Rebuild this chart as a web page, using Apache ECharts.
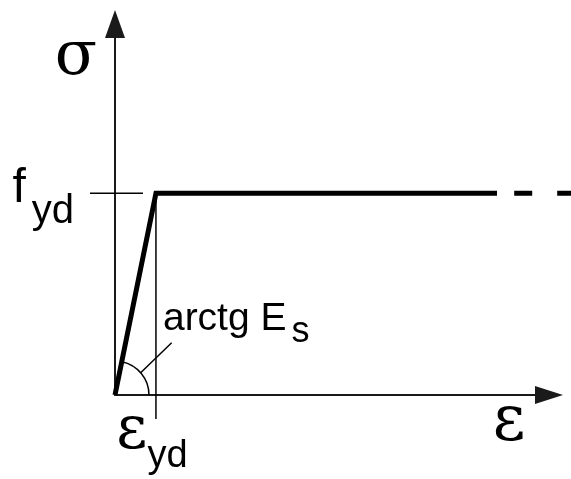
<!DOCTYPE html>
<html><head><meta charset="utf-8">
<script src="https://cdn.jsdelivr.net/npm/echarts@6/dist/echarts.min.js"></script>
<style>html,body{margin:0;padding:0;background:#fff}#c{width:571px;height:479px}</style>
</head><body><div id="c"></div>
<script>
// ---- data (normalised: strain / eps_yd, stress / f_yd) ----
const strainPts = [0, 1, 9.33];        // bilinear stress-strain diagram
const stressPts = [0, 1, 1];
const dashStrain = [9.75, 11.2];        // dashed continuation of the plateau
const dashStress = [1, 1];
const epsYd = 1;                        // yield strain
const fYd = 1;                          // design yield strength
const xTickValues = [1];
const xTickMain = ['ε'];
const xTickSub = ['yd'];
const yTickValues = [1];
const yTickMain = ['f'];
const yTickSub = ['yd'];
const xName = 'ε';
const yName = 'σ';
const angleMain = 'arctg E';
const angleSub = 's';

const SERIF = 'DejaVu Serif';
const SANS = 'Liberation Sans';
const INK = '#000';

const zip = (a, b) => a.map((v, i) => [v, b[i]]);

const chart = echarts.init(document.getElementById('c'), null, {renderer: 'canvas'});
const option = {
  animation: false,
  backgroundColor: '#fff',
  grid: {left: 115, right: 22, top: 24, bottom: 84, containLabel: false, outerBoundsMode: 'none'},
  xAxis: {
    type: 'value', min: 0, max: 10.6, interval: 1,
    axisLine: {show: true, onZero: false, symbol: ['none', 'triangle'], symbolSize: [18, 28],
      lineStyle: {color: '#1a1a1a', width: 2}},
    axisTick: {show: false}, splitLine: {show: false},
    axisLabel: {
      margin: 7, hideOverlap: false, showMinLabel: true, showMaxLabel: false,
      formatter: v => { const i = xTickValues.indexOf(v); return i < 0 ? '' : '{e|' + xTickMain[i] + '}{s|' + xTickSub[i] + '}'; },
      rich: {
        e: {fontFamily: SERIF, fontSize: 60, color: INK, padding: [0, 0, 25, 0]},
        s: {fontFamily: SANS, fontSize: 38, color: INK, padding: [25, 8, 0, 0]}
      }
    },
    name: '{n|' + xName + '}', nameLocation: 'end', nameGap: -40, nameMoveOverlap: false,
    nameTextStyle: {align: 'center', verticalAlign: 'middle',
      rich: {n: {fontFamily: SERIF, fontSize: 63, color: INK, padding: [58, 0, 0, 0]}}}
  },
  yAxis: {
    type: 'value', min: 0, max: 1.84, interval: 1,
    axisLine: {show: true, onZero: false, symbol: ['none', 'triangle'], symbolSize: [20, 28],
      lineStyle: {color: '#1a1a1a', width: 2}},
    axisTick: {show: false}, splitLine: {show: false},
    axisLabel: {
      margin: 41, hideOverlap: false,
      formatter: v => { const i = yTickValues.indexOf(v); return i < 0 ? '' : '{f|' + yTickMain[i] + '}{s|' + yTickSub[i] + '}'; },
      rich: {
        f: {fontFamily: SANS, fontSize: 48, color: INK, padding: [0, 6, 10, 0]},
        s: {fontFamily: SANS, fontSize: 40, color: INK, padding: [37, 0, 0, 0]}
      }
    },
    name: '{n|' + yName + '}', nameLocation: 'end', nameGap: -25, nameMoveOverlap: false,
    nameTextStyle: {align: 'right', verticalAlign: 'middle',
      rich: {n: {fontFamily: SERIF, fontSize: 62, color: INK, padding: [18, 18, 0, 0]}}}
  },
  series: [
    {type: 'line', name: 'steel', data: zip(strainPts, stressPts), symbol: 'none',
      lineStyle: {color: INK, width: 5, join: 'miter'}, z: 5},
    {type: 'custom', name: 'guides', data: [[0, 0]], clip: false, z: 6,
      renderItem: (params, api) => {
        const o = api.coord([0, 0]);
        const u = api.size([1, 1]);                       // pixels per data unit
        const X = v => o[0] + v * u[0];
        const Y = v => o[1] - v * u[1];
        const cx = X(epsYd), cy = Y(fYd);
        const ang = Math.atan2(o[1] - cy, cx - o[0]);
        const r = 34;
        const la = 41 * Math.PI / 180;
        const p1 = [o[0] + r * Math.cos(la), o[1] - r * Math.sin(la)];
        const dash = zip(dashStrain, dashStress);
        return {type: 'group', children: [
          // dashed continuation of the yield plateau
          {type: 'line', shape: {x1: X(dash[0][0]), y1: Y(dash[0][1]), x2: X(dash[1][0]), y2: Y(dash[1][1])},
            style: {stroke: INK, lineWidth: 5, lineDash: [18, 25]}},
          // f_yd tick crossing the stress axis
          {type: 'line', shape: {x1: o[0] - 25, y1: cy, x2: o[0] + 28, y2: cy}, style: {stroke: INK, lineWidth: 1.5}},
          // eps_yd guide down through the strain axis
          {type: 'line', shape: {x1: cx, y1: cy + 2, x2: cx, y2: o[1] + 24}, style: {stroke: INK, lineWidth: 1.5}},
          // angle arc + leader + label
          {type: 'arc', shape: {cx: o[0], cy: o[1], r: r, startAngle: -ang, endAngle: 0, clockwise: true},
            style: {stroke: INK, lineWidth: 1.5, fill: null}},
          {type: 'line', shape: {x1: p1[0], y1: p1[1], x2: p1[0] + 31, y2: p1[1] - 30},
            style: {stroke: INK, lineWidth: 1.5}},
          {type: 'text', x: cx + 7, y: o[1] - 107,
            style: {text: '{a|' + angleMain + '}{s|' + angleSub + '}', align: 'left', verticalAlign: 'top',
              rich: {
                a: {fontFamily: SANS, fontSize: 39, fill: INK, color: INK},
                s: {fontFamily: SANS, fontSize: 36, fill: INK, color: INK, padding: [26, 0, 0, 5]}
              }}}
        ]};
      }}
  ]
};
chart.setOption(option);
</script>
</body></html>
